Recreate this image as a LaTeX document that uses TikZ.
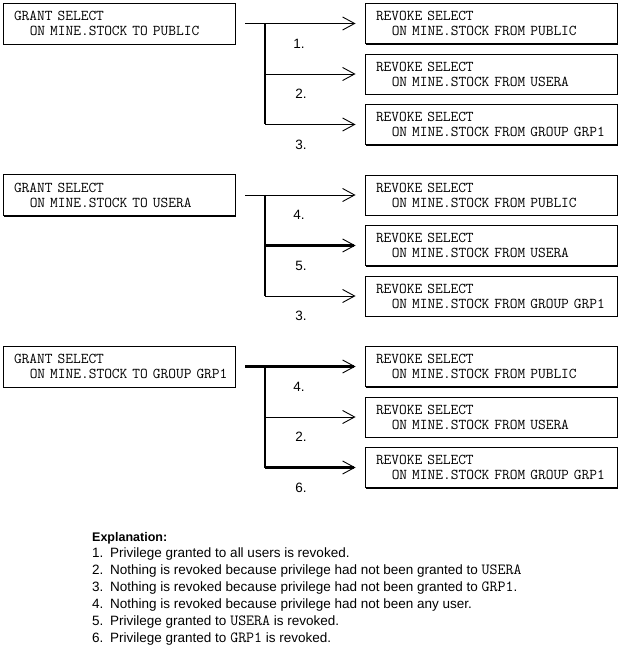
\documentclass[tikz,border=0pt]{standalone}
\usepackage{fontspec}
\setmainfont{Liberation Sans}
\usetikzlibrary{arrows.meta,calc,shadows}
\newcommand{\sqlname}[1]{{\fontsize{15.5}{15}\selectfont\ttfamily #1}}
\newcommand{\sqltext}[2]{\hspace*{11pt}#1\\\hspace*{11pt}\hspace*{1.05em}#2}
\tikzset{
  grantbox/.style={draw=black,line width=0.9pt,fill=white,
    drop shadow={shadow xshift=1.2pt,shadow yshift=-1.2pt,fill=black,opacity=1},
    minimum width=232pt,minimum height=41pt,text width=232pt,inner xsep=0pt,
    align=left,font=\fontsize{15}{15}\selectfont\ttfamily},
  revokebox/.style={grantbox,minimum width=252pt,text width=252pt,minimum height=40pt},
  pipe/.style={line width=0.9pt,-{Straight Barb[length=12pt,width=13pt,line width=0.9pt]},
    shorten >=9pt},
  heavypipe/.style={pipe,line width=2.4pt},
  trunk/.style={line width=2.4pt},
  numlabel/.style={font=\fontsize{13.5}{15}\selectfont,inner sep=0pt},
  notetext/.style={anchor=base west,font=\fontsize{13.5}{15}\selectfont,inner sep=0pt}
}

\begin{document}
\begin{tikzpicture}[x=1pt,y=-1pt]
  \useasboundingbox (0,0) rectangle (622,668);
  % grant to PUBLIC
  \node[grantbox] (g1) at (119,23.5) {\sqltext{GRANT SELECT}{ON MINE.STOCK TO PUBLIC}};
  \node[revokebox] (r11) at (491,23.5) {\sqltext{REVOKE SELECT}{ON MINE.STOCK FROM PUBLIC}};
  \node[revokebox] (r12) at (491,74.0) {\sqltext{REVOKE SELECT}{ON MINE.STOCK FROM USERA}};
  \node[revokebox] (r13) at (491,124.5) {\sqltext{REVOKE SELECT}{ON MINE.STOCK FROM GROUP GRP1}};
  \coordinate (j1) at (265,23.5);
  \draw[pipe,shorten <=10pt] (g1) -- (r11);
  \draw[trunk] (j1) -- (j1 |- r13);
  \draw[pipe] (j1 |- r12) -- (r12);
  \draw[pipe] (j1 |- r13) -- (r13);
  \node[numlabel] (l11) at (299,43.5) {1.};
  \node[numlabel] (l12) at (301,94.0) {2.};
  \node[numlabel] (l13) at (301,144.5) {3.};

  % grant to USERA
  \node[grantbox] (g2) at (119,195.0) {\sqltext{GRANT SELECT}{ON MINE.STOCK TO USERA}};
  \node[revokebox] (r21) at (491,195.0) {\sqltext{REVOKE SELECT}{ON MINE.STOCK FROM PUBLIC}};
  \node[revokebox] (r22) at (491,245.5) {\sqltext{REVOKE SELECT}{ON MINE.STOCK FROM USERA}};
  \node[revokebox] (r23) at (491,296.0) {\sqltext{REVOKE SELECT}{ON MINE.STOCK FROM GROUP GRP1}};
  \coordinate (j2) at (265,195.0);
  \draw[pipe,shorten <=10pt] (g2) -- (r21);
  \draw[trunk] (j2) -- (j2 |- r23);
  \draw[heavypipe] (j2 |- r22) -- (r22);
  \draw[pipe] (j2 |- r23) -- (r23);
  \node[numlabel] (l21) at (299,215.0) {4.};
  \node[numlabel] (l22) at (301,265.5) {5.};
  \node[numlabel] (l23) at (301,316.0) {3.};

  % grant to GROUP GRP1
  \node[grantbox] (g3) at (119,366.5) {\sqltext{GRANT SELECT}{ON MINE.STOCK TO GROUP GRP1}};
  \node[revokebox] (r31) at (491,366.5) {\sqltext{REVOKE SELECT}{ON MINE.STOCK FROM PUBLIC}};
  \node[revokebox] (r32) at (491,417.0) {\sqltext{REVOKE SELECT}{ON MINE.STOCK FROM USERA}};
  \node[revokebox] (r33) at (491,467.5) {\sqltext{REVOKE SELECT}{ON MINE.STOCK FROM GROUP GRP1}};
  \coordinate (j3) at (265,366.5);
  \draw[heavypipe,shorten <=10pt] (g3) -- (r31);
  \draw[trunk] (j3) -- (j3 |- r33);
  \draw[pipe] (j3 |- r32) -- (r32);
  \draw[heavypipe] (j3 |- r33) -- (r33);
  \node[numlabel] (l31) at (299,386.5) {4.};
  \node[numlabel] (l32) at (301,437.0) {2.};
  \node[numlabel] (l33) at (301,487.5) {6.};

  % explanation
  \node[notetext,font=\fontsize{12.5}{15}\selectfont\bfseries] (nhead) at (92,541) {Explanation:};
  \node[notetext] (n1) at (92,557) {1.};
  \node[notetext] (n2) at (92,574) {2.};
  \node[notetext] (n3) at (92,591) {3.};
  \node[notetext] (n4) at (92,608) {4.};
  \node[notetext] (n5) at (92,625) {5.};
  \node[notetext] (n6) at (92,642) {6.};
  \node[notetext] (t1) at (110,557) {Privilege granted to all users is revoked.};
  \node[notetext] (t2) at (110,574) {Nothing is revoked because privilege had not been granted to \sqlname{USERA}};
  \node[notetext] (t3) at (110,591) {Nothing is revoked because privilege had not been granted to \sqlname{GRP1}.};
  \node[notetext] (t4) at (110,608) {Nothing is revoked because privilege had not been any user.};
  \node[notetext] (t5) at (110,625) {Privilege granted to \sqlname{USERA} is revoked.};
  \node[notetext] (t6) at (110,642) {Privilege granted to \sqlname{GRP1} is revoked.};
\end{tikzpicture}
\end{document}
